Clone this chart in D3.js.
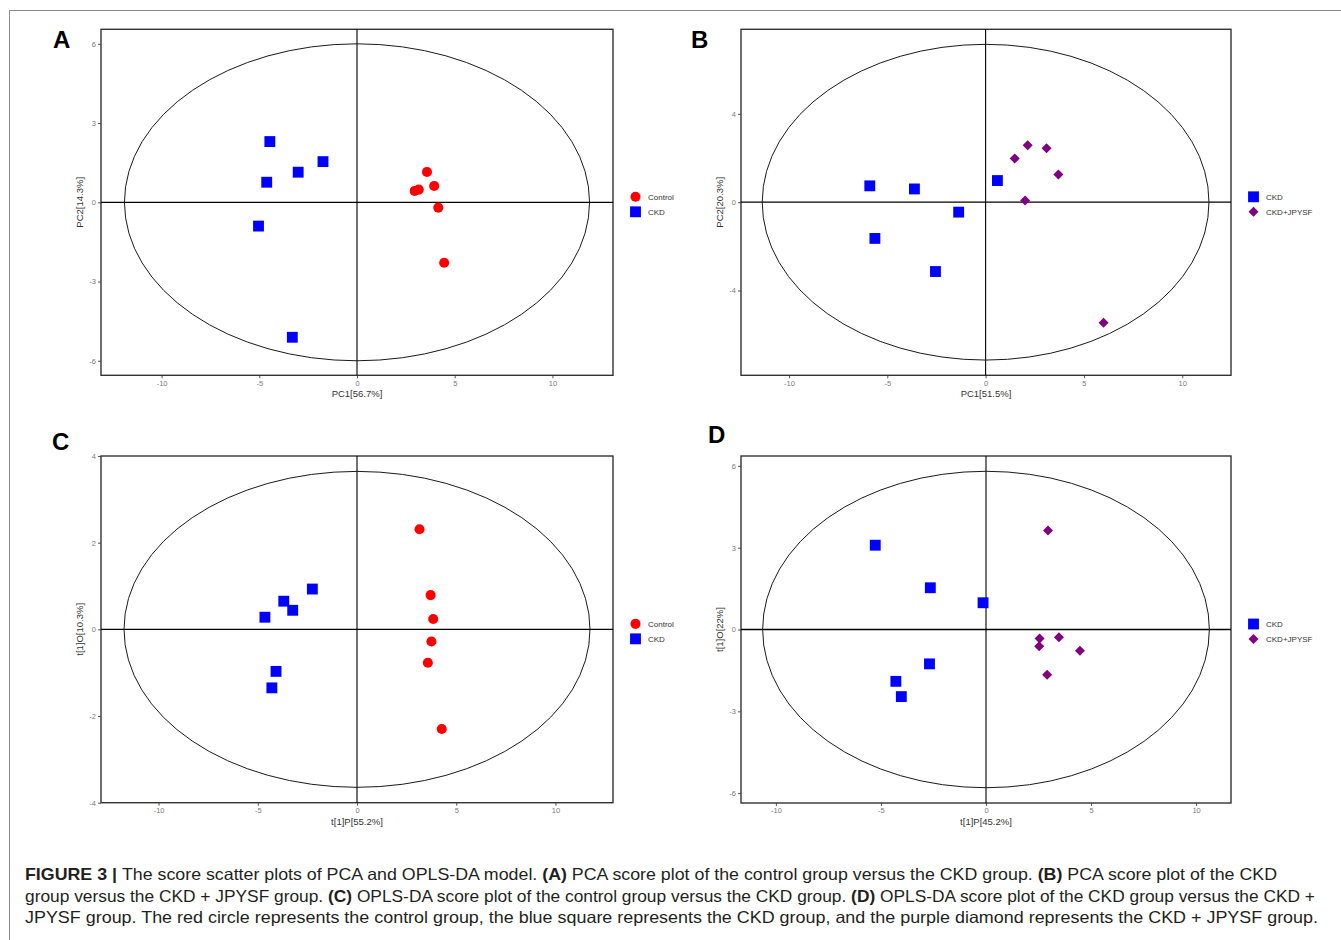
<!DOCTYPE html>
<html>
<head>
<meta charset="utf-8">
<script src="https://cdn.jsdelivr.net/npm/d3@7"></script>
<style>
  body { margin: 0; background: #fff; }
  svg { display: block; font-family: "Liberation Sans", Arial, sans-serif; }
</style>
</head>
<body>
<svg id="fig" width="1341" height="940"></svg>
<script>
// ---- data ----
var xTicks = [-10, -5, 0, 5, 10];
var yTicksA = [-6, -3, 0, 3, 6];
var yTicksB = [-4, 0, 4];
var yTicksC = [-4, -2, 0, 2, 4];
var yTicksD = [-6, -3, 0, 3, 6];

// [x, y] scores
var controlA = [[3.58, 1.15], [2.95, 0.43], [3.16, 0.48], [3.95, 0.62], [4.16, -0.20], [4.46, -2.29]];
var ckdA = [[-4.46, 2.30], [-1.74, 1.54], [-3.01, 1.14], [-4.62, 0.76], [-5.04, -0.90], [-3.31, -5.11]];

var ckdB = [[-5.89, 0.74], [-3.62, 0.60], [0.60, 0.98], [-1.37, -0.45], [-5.63, -1.64], [-2.55, -3.14]];
var jpysfB = [[1.48, 1.98], [2.14, 2.58], [3.10, 2.44], [3.70, 1.25], [2.01, 0.08], [6.00, -5.46]];

var controlC = [[3.15, 2.31], [3.71, 0.79], [3.84, 0.24], [3.75, -0.28], [3.57, -0.77], [4.27, -2.30]];
var ckdC = [[-2.25, 0.93], [-3.69, 0.65], [-3.24, 0.44], [-4.64, 0.28], [-4.08, -0.97], [-4.29, -1.35]];

var ckdD = [[-5.27, 3.09], [-2.65, 1.53], [-0.14, 0.98], [-2.69, -1.26], [-4.29, -1.90], [-4.03, -2.46]];
var jpysfD = [[2.95, 3.63], [2.55, -0.33], [3.47, -0.28], [2.53, -0.61], [4.47, -0.78], [2.91, -1.66]];

// Hotelling T2 ellipse radii [rx, ry]
var ellipseA = [11.9, 6.0];
var ellipseB = [11.36, 7.15];
var ellipseC = [11.74, 3.645];
var ellipseD = [10.63, 5.8];

var groupStyle = {
	"Control": { color: "#ff0000", shape: "circle" },
	"CKD": { color: "#0000ff", shape: "square" },
	"CKD+JPYSF": { color: "#800080", shape: "diamond" }
};

var panels = [
	{ label: "A", lx: 53, ly: 48, box: [101, 29.3, 613, 375.3], xDom: [-13.1, 13.1], yDom: [-6.55, 6.55],
	  yTicks: yTicksA, ell: ellipseA, xTitle: "PC1[56.7%]", yTitle: "PC2[14.3%]",
	  groups: [["Control", controlA], ["CKD", ckdA]] },
	{ label: "B", lx: 691, ly: 48, box: [741, 29.3, 1231, 375.3], xDom: [-12.44, 12.48], yDom: [-7.84, 7.83],
	  yTicks: yTicksB, ell: ellipseB, xTitle: "PC1[51.5%]", yTitle: "PC2[20.3%]",
	  groups: [["CKD", ckdB], ["CKD+JPYSF", jpysfB]] },
	{ label: "C", lx: 52, ly: 450, box: [101, 456, 613, 802.7], xDom: [-12.9, 12.9], yDom: [-4, 4],
	  yTicks: yTicksC, ell: ellipseC, xTitle: "t[1]P[55.2%]", yTitle: "t[1]O[10.3%]",
	  groups: [["Control", controlC], ["CKD", ckdC]] },
	{ label: "D", lx: 708, ly: 443, box: [741, 456, 1231, 803], xDom: [-11.66, 11.66], yDom: [-6.36, 6.36],
	  yTicks: yTicksD, ell: ellipseD, xTitle: "t[1]P[45.2%]", yTitle: "t[1]O[22%]",
	  groups: [["CKD", ckdD], ["CKD+JPYSF", jpysfD]] }
];

var svg = d3.select("#fig");

// outer frame (top + left)
svg.append("path")
	.attr("d", "M9.5,940V10.5H1341")
	.attr("fill", "none")
	.attr("stroke", "#8a8a8a")
	.attr("stroke-width", 1);

function symbolPath(shape) {
	if (shape === "circle") return d3.symbol(d3.symbolCircle, 80)();
	if (shape === "square") return d3.symbol(d3.symbolSquare, 118)();
	return d3.symbol(d3.symbolSquare, 50)();
}

function drawMark(sel, name) {
	var st = groupStyle[name];
	sel.attr("d", symbolPath(st.shape))
		.attr("fill", st.color)
		.attr("stroke", "none");
}

panels.forEach(function (p) {
	var x0 = p.box[0], y0 = p.box[1], x1 = p.box[2], y1 = p.box[3];
	var x = d3.scaleLinear().domain(p.xDom).range([x0, x1]);
	var y = d3.scaleLinear().domain(p.yDom).range([y1, y0]);
	var g = svg.append("g");

	g.append("text")
		.attr("x", p.lx).attr("y", p.ly)
		.attr("font-size", 24).attr("font-weight", "bold")
		.attr("fill", "#000")
		.text(p.label);

	// axes
	var xa = g.append("g")
		.attr("transform", "translate(0," + y1 + ")")
		.call(d3.axisBottom(x).tickValues(xTicks).tickSize(3).tickPadding(2)
			.tickFormat(function (d) { return String(d); }));
	var ya = g.append("g")
		.attr("transform", "translate(" + x0 + ",0)")
		.call(d3.axisLeft(y).tickValues(p.yTicks).tickSize(3).tickPadding(2)
			.tickFormat(function (d) { return String(d); }));
	[xa, ya].forEach(function (a) {
		a.select(".domain").remove();
		a.selectAll("line").attr("stroke", "#555");
		a.selectAll("text").attr("fill", "#7a7a7a").attr("font-size", 7.5)
			.attr("font-family", "Liberation Sans, Arial, sans-serif");
	});

	// plot box
	g.append("rect")
		.attr("x", x0).attr("y", y0)
		.attr("width", x1 - x0).attr("height", y1 - y0)
		.attr("fill", "none")
		.attr("stroke", "#333")
		.attr("stroke-width", 1.4);

	// zero lines
	g.append("line")
		.attr("x1", x0).attr("x2", x1)
		.attr("y1", y(0)).attr("y2", y(0))
		.attr("stroke", "#000").attr("stroke-width", 1.3);
	g.append("line")
		.attr("x1", x(0)).attr("x2", x(0))
		.attr("y1", y0).attr("y2", y1)
		.attr("stroke", "#000").attr("stroke-width", 1.1);

	// confidence ellipse
	g.append("ellipse")
		.attr("cx", x(0)).attr("cy", y(0))
		.attr("rx", x(p.ell[0]) - x(0))
		.attr("ry", y(0) - y(p.ell[1]))
		.attr("fill", "none")
		.attr("stroke", "#1a1a1a")
		.attr("stroke-width", 1);

	// points
	p.groups.forEach(function (gr) {
		g.selectAll(null)
			.data(gr[1])
			.enter()
			.append("path")
			.attr("transform", function (d) {
				var r = groupStyle[gr[0]].shape === "diamond" ? " rotate(45)" : "";
				return "translate(" + x(d[0]) + "," + y(d[1]) + ")" + r;
			})
			.call(drawMark, gr[0]);
	});

	// axis titles
	g.append("text")
		.attr("x", (x0 + x1) / 2).attr("y", y1 + 22)
		.attr("text-anchor", "middle")
		.attr("font-size", 9.5).attr("fill", "#333")
		.text(p.xTitle);
	g.append("text")
		.attr("transform", "translate(" + (x0 - 18.5) + "," + ((y0 + y1) / 2) + ") rotate(-90)")
		.attr("text-anchor", "middle")
		.attr("font-size", 9.5).attr("fill", "#333")
		.text(p.yTitle);

	// legend
	var cy = (y0 + y1) / 2;
	p.groups.forEach(function (gr, i) {
		var ly = cy - 5.5 + i * 15;
		g.append("path")
			.attr("transform", "translate(" + (x1 + 22.5) + "," + ly + ")" +
				(groupStyle[gr[0]].shape === "diamond" ? " rotate(45)" : ""))
			.call(drawMark, gr[0]);
		g.append("text")
			.attr("x", x1 + 35).attr("y", ly + 3)
			.attr("font-size", 8).attr("fill", "#333")
			.text(gr[0]);
	});
});

// caption
var captionLines = [
	[["FIGURE 3 | ", true], ["The score scatter plots of PCA and OPLS-DA model. ", false], ["(A)", true],
	 [" PCA score plot of the control group versus the CKD group. ", false], ["(B)", true],
	 [" PCA score plot of the CKD", false]],
	[["group versus the CKD + JPYSF group. ", false], ["(C)", true],
	 [" OPLS-DA score plot of the control group versus the CKD group. ", false], ["(D)", true],
	 [" OPLS-DA score plot of the CKD group versus the CKD +", false]],
	[["JPYSF group. The red circle represents the control group, the blue square represents the CKD group, and the purple diamond represents the CKD + JPYSF group.", false]]
];
var captionWidths = [1252, 1290, 1293];
var captionBase = [880, 901.5, 923];

captionLines.forEach(function (line, i) {
	var t = svg.append("text")
		.attr("x", 25).attr("y", captionBase[i])
		.attr("font-size", 16.5)
		.attr("fill", "#231f20")
		.attr("textLength", captionWidths[i])
		.attr("lengthAdjust", "spacingAndGlyphs");
	line.forEach(function (seg) {
		t.append("tspan")
			.attr("font-weight", seg[1] ? "bold" : "normal")
			.text(seg[0]);
	});
});
</script>
</body>
</html>
